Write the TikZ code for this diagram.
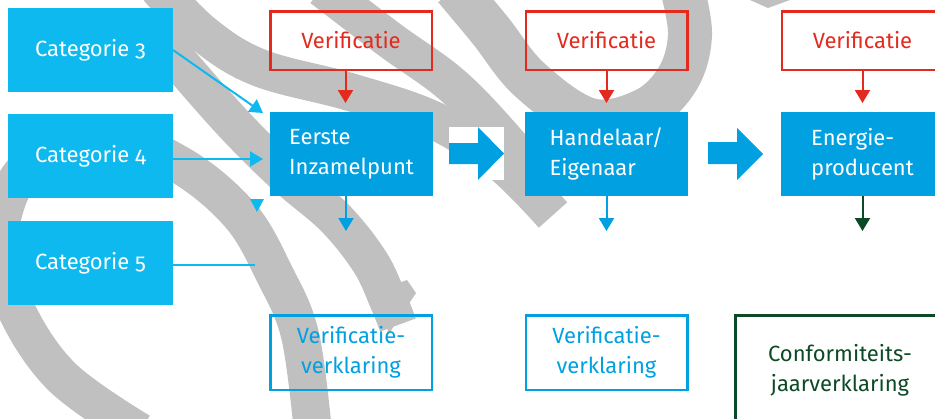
\documentclass[tikz,border=0pt]{standalone}
\usepackage{fontspec}
\setmainfont{Fira Sans}[Numbers=OldStyle]
\usetikzlibrary{arrows.meta}
\definecolor{catblue}{HTML}{0DB9EE}
\definecolor{mainblue}{HTML}{00A0E1}
\definecolor{vred}{HTML}{E42A1D}
\definecolor{dgreen}{HTML}{0B4A24}
\definecolor{wgray}{HTML}{C0C0C0}
\tikzset{
  txt/.style={font=\fontsize{22}{30}\selectfont},
  band/.style={draw=wgray, line width=38pt, line cap=butt, line join=round},
  catbox/.style={txt, fill=catblue, text=white, minimum width=165pt, minimum height=84pt, inner sep=0pt, outer sep=0pt},
  mainbox/.style={txt, fill=mainblue, text=white, minimum width=163pt, minimum height=84pt, inner sep=0pt, outer sep=0pt, align=left},
  verbox/.style={txt, draw=vred, line width=2.5pt, text=vred, minimum width=161.5pt, minimum height=58.5pt, inner sep=0pt, outer sep=0pt},
  vkbox/.style={txt, draw=mainblue, line width=2.5pt, text=mainblue, minimum width=161.5pt, minimum height=74.5pt, inner sep=0pt, outer sep=0pt, align=center},
  confbox/.style={txt, draw=dgreen, line width=2.5pt, text=dgreen, minimum width=209.5pt, minimum height=109.5pt, inner sep=0pt, outer sep=0pt, align=center},
  arr/.style={line width=2pt, -{Triangle[width=15pt,length=13pt]}},
  redarr/.style={arr, draw=vred, fill=vred},
  bluearr/.style={arr, draw=mainblue, fill=mainblue},
  greenarr/.style={arr, draw=dgreen, fill=dgreen},
  catarr/.style={arr, draw=catblue, fill=catblue},
  blockarrow/.style={fill=mainblue}
}
\begin{document}
\begin{tikzpicture}[x=1pt,y=-1pt]
\useasboundingbox (0,0) rectangle (935,418);
% background watermark bands
\draw[band] plot[smooth, tension=0.6] coordinates {(140,432) (60,375) (12,300) (0,230) (30,165) (110,140) (180,165) (240,215) (275,275) (300,335) (313,432)};
\draw[band] plot[smooth, tension=0.6] coordinates {(158,-12) (205,35) (260,68) (350,92) (433,120) (500,162) (553,215)};
\draw[band] plot[smooth, tension=0.6] coordinates {(160,40) (230,120) (285,175) (335,218) (370,262) (388,300) (398,325)};
\fill[wgray] (385,288) -- (407,280) -- (416,293) -- (388,335) -- cycle;
\draw[band] plot[smooth, tension=0.6] coordinates {(322,-12) (390,40) (452,85) (505,140) (545,190)};
\draw[band, line width=44pt] plot[smooth, tension=0.6] coordinates {(455,-12) (490,30) (530,80) (590,120) (645,110) (678,78) (690,35) (682,-12)};
\fill[wgray] (750,0) -- (790,0) -- (768,8) -- cycle;

% block arrows
\fill[white] (449,127) rectangle (504,180);
\fill[blockarrow] (449,143) -- (478,143) -- (478,127) -- (504,153.5) -- (478,180) -- (478,164) -- (449,164) -- cycle;
\fill[white] (708,128) rectangle (763,180);
\fill[blockarrow] (708,142) -- (737,142) -- (737,128) -- (763,154) -- (737,180) -- (737,164) -- (708,164) -- cycle;

% nodes
\node[catbox] (cat3) at (90.5,50) {Categorie 3};
\node[catbox] (cat4) at (90.5,156) {Categorie 4};
\node[catbox] (cat5) at (90.5,263) {Categorie 5};

\node[verbox] (ver1) at (351,40.5) {Verificatie};
\node[verbox] (ver2) at (606.5,40.5) {Verificatie};
\node[verbox] (ver3) at (862.5,40.5) {Verificatie};

\node[mainbox] (eerste) at (351.5,154) {Eerste\\Inzamelpunt};
\node[mainbox] (handel) at (606.5,154) {Handelaar/\\Eigenaar};
\node[mainbox] (energie) at (862.5,154) {Energie-\\producent};

\node[vkbox] (vk1) at (351,352.5) {Verificatie-\\verklaring};
\node[vkbox] (vk2) at (606.5,352.5) {Verificatie-\\verklaring};
\node[confbox] (conf) at (840,370) {Conformiteits-\\jaarverklaring};

% free ends
\coordinate (t3) at (263,113);
\coordinate (t4) at (263,159);
\coordinate (c5) at (255,265);
\coordinate (d1) at (346,231);
\coordinate (d2) at (606.5,231);
\coordinate (d3) at (862.5,231);

% connectors
\draw[catarr] (cat3.east) -- (t3);
\draw[catarr] ([yshift=-3pt]cat4.east) -- (t4);
\draw[catblue, line width=2pt] ([yshift=-2pt]cat5.east) -- (c5);
\fill[catblue] (250,199) -- (264,199) -- (257,212) -- cycle;

\draw[redarr] ([xshift=-5.5pt]ver1.south) -- ([xshift=-6pt,yshift=9pt]eerste.north);
\draw[redarr] (ver2.south) -- ([yshift=9pt]handel.north);
\draw[redarr] (ver3.south) -- ([yshift=9pt]energie.north);

\draw[bluearr] ([xshift=-5.5pt]eerste.south) -- (d1);
\draw[bluearr] (handel.south) -- (d2);
\draw[greenarr] (energie.south) -- (d3);
\end{tikzpicture}
\end{document}
